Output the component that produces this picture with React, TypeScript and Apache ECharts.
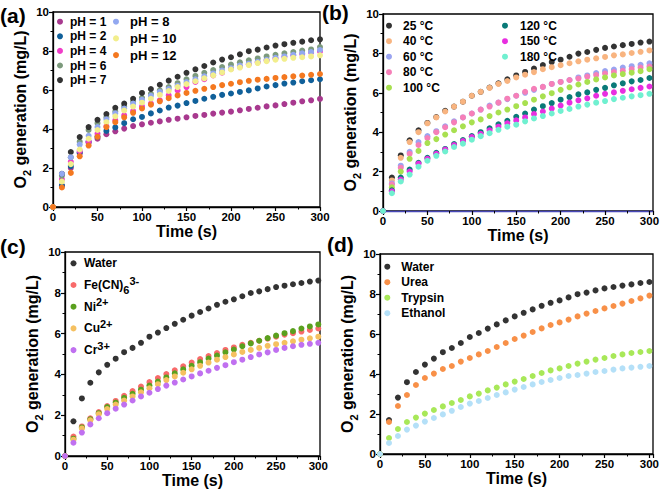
import React, { useEffect, useRef } from 'react';
import * as echarts from 'echarts';

const TIME = [0, 10, 20, 30, 40, 50, 60, 70, 80, 90, 100, 110, 120, 130, 140, 150, 160, 170, 180, 190, 200, 210, 220, 230, 240, 250, 260, 270, 280, 290, 300];

const WATER = [0, 1.7, 2.82, 3.59, 4.1, 4.47, 4.77, 5.09, 5.3, 5.55, 5.85, 6.05, 6.27, 6.48, 6.68, 6.88, 7.06, 7.23, 7.41, 7.56, 7.68, 7.83, 7.99, 8.07, 8.18, 8.28, 8.35, 8.42, 8.48, 8.55, 8.6];

// (a) pH
const PH1 = [0, 1.1, 2.0, 2.75, 3.3, 3.5, 3.73, 3.88, 4.02, 4.15, 4.24, 4.32, 4.39, 4.47, 4.53, 4.6, 4.67, 4.72, 4.79, 4.84, 4.89, 4.96, 5.03, 5.09, 5.16, 5.21, 5.28, 5.35, 5.42, 5.47, 5.54];
const PH2 = [0, 1.1, 2.1, 2.8, 3.35, 3.6, 3.9, 4.08, 4.3, 4.5, 4.62, 4.8, 4.95, 5.1, 5.2, 5.33, 5.44, 5.55, 5.65, 5.75, 5.82, 5.9, 5.98, 6.08, 6.18, 6.25, 6.33, 6.38, 6.45, 6.5, 6.55];
const PH4 = [0, 1.42, 2.32, 2.87, 3.35, 3.76, 4.14, 4.44, 4.7, 4.92, 5.16, 5.3, 5.47, 5.73, 5.98, 6.15, 6.41, 6.55, 6.75, 6.89, 7.09, 7.2, 7.32, 7.42, 7.52, 7.62, 7.7, 7.78, 7.85, 7.92, 7.98];
const PH6 = [0, 1.6, 2.55, 3.35, 3.95, 4.3, 4.6, 4.9, 5.15, 5.4, 5.6, 5.8, 5.98, 6.15, 6.35, 6.55, 6.72, 6.88, 7.02, 7.18, 7.3, 7.42, 7.52, 7.62, 7.72, 7.8, 7.88, 7.95, 8.02, 8.08, 8.2];
const PH7 = WATER;
const PH8 = [0, 1.7, 2.55, 3.2, 3.65, 4.1, 4.5, 4.8, 5.05, 5.3, 5.5, 5.7, 5.9, 6.05, 6.22, 6.4, 6.55, 6.7, 6.85, 7.0, 7.12, 7.25, 7.35, 7.45, 7.55, 7.65, 7.72, 7.8, 7.88, 7.95, 8.05];
const PH10 = [0, 1.3, 2.2, 2.95, 3.5, 3.95, 4.35, 4.65, 4.95, 5.15, 5.35, 5.55, 5.75, 5.95, 6.15, 6.3, 6.45, 6.6, 6.75, 6.9, 7.05, 7.15, 7.28, 7.38, 7.48, 7.55, 7.6, 7.65, 7.68, 7.72, 7.78];
const PH12 = [0, 1.0, 1.75, 2.6, 3.15, 3.6, 4.1, 4.35, 4.6, 4.83, 5.05, 5.25, 5.42, 5.58, 5.72, 5.85, 5.96, 6.06, 6.15, 6.25, 6.32, 6.4, 6.47, 6.53, 6.57, 6.62, 6.66, 6.7, 6.74, 6.78, 6.82];

// (b) temperature
const T25 = WATER;
const T40 = [0, 1.55, 2.7, 3.5, 4.0, 4.45, 4.75, 5.05, 5.3, 5.55, 5.85, 6.05, 6.25, 6.45, 6.6, 6.78, 6.92, 7.05, 7.2, 7.3, 7.4, 7.5, 7.6, 7.68, 7.75, 7.82, 7.9, 7.95, 8.02, 8.08, 8.15];
const T60 = [0, 1.4, 2.3, 3.0, 3.5, 3.8, 4.05, 4.3, 4.55, 4.75, 4.95, 5.15, 5.35, 5.5, 5.68, 5.85, 6.0, 6.15, 6.3, 6.45, 6.55, 6.65, 6.78, 6.88, 7.0, 7.1, 7.18, 7.28, 7.35, 7.42, 7.5];
const T80 = [0, 1.35, 2.2, 2.9, 3.35, 3.7, 4.0, 4.25, 4.5, 4.75, 4.95, 5.15, 5.3, 5.5, 5.7, 5.85, 6.05, 6.2, 6.3, 6.45, 6.55, 6.65, 6.72, 6.82, 6.9, 6.98, 7.05, 7.12, 7.2, 7.28, 7.33];
const T100 = [0, 1.2, 2.0, 2.65, 3.05, 3.45, 3.65, 3.88, 4.1, 4.3, 4.5, 4.65, 4.82, 5.0, 5.15, 5.32, 5.48, 5.65, 5.82, 5.98, 6.15, 6.28, 6.42, 6.55, 6.68, 6.78, 6.88, 6.95, 7.02, 7.1, 7.2];
const T120 = [0, 1.05, 1.7, 2.1, 2.45, 2.7, 2.95, 3.15, 3.4, 3.6, 3.8, 4.0, 4.2, 4.4, 4.58, 4.78, 4.95, 5.15, 5.32, 5.48, 5.65, 5.78, 5.92, 6.02, 6.15, 6.25, 6.38, 6.48, 6.58, 6.65, 6.75];
const T150 = [0, 1.0, 1.6, 2.0, 2.4, 2.65, 2.9, 3.12, 3.35, 3.55, 3.75, 3.92, 4.1, 4.28, 4.45, 4.6, 4.75, 4.92, 5.05, 5.2, 5.35, 5.5, 5.62, 5.72, 5.85, 5.95, 6.02, 6.1, 6.18, 6.25, 6.32];
const T180 = [0, 0.9, 1.5, 1.85, 2.25, 2.55, 2.8, 3.02, 3.25, 3.42, 3.62, 3.8, 3.95, 4.12, 4.28, 4.38, 4.55, 4.7, 4.82, 4.95, 5.08, 5.18, 5.3, 5.4, 5.5, 5.58, 5.68, 5.75, 5.82, 5.88, 5.95];

// (c) ions
const FECN = [0, 0.95, 1.45, 1.85, 2.15, 2.45, 2.7, 2.95, 3.18, 3.4, 3.62, 3.82, 4.02, 4.2, 4.4, 4.58, 4.75, 4.9, 5.05, 5.2, 5.32, 5.45, 5.55, 5.65, 5.75, 5.85, 5.95, 6.02, 6.1, 6.18, 6.25];
const NI = [0, 0.85, 1.4, 1.8, 2.1, 2.4, 2.62, 2.85, 3.05, 3.25, 3.45, 3.65, 3.85, 4.05, 4.25, 4.42, 4.6, 4.78, 4.92, 5.08, 5.22, 5.38, 5.52, 5.65, 5.78, 5.9, 6.02, 6.12, 6.25, 6.35, 6.45];
const CU = [0, 0.8, 1.35, 1.75, 2.05, 2.3, 2.52, 2.72, 2.92, 3.12, 3.32, 3.52, 3.72, 3.9, 4.08, 4.25, 4.42, 4.58, 4.72, 4.85, 4.98, 5.1, 5.2, 5.3, 5.4, 5.48, 5.55, 5.62, 5.7, 5.77, 5.85];
const CR = [0, 0.65, 1.15, 1.55, 1.85, 2.1, 2.32, 2.52, 2.72, 2.92, 3.1, 3.28, 3.45, 3.6, 3.75, 3.9, 4.05, 4.18, 4.32, 4.45, 4.6, 4.72, 4.85, 4.98, 5.08, 5.2, 5.3, 5.38, 5.45, 5.5, 5.55];

// (d) organics
const UREA = [0, 1.6, 2.4, 2.95, 3.45, 3.8, 4.02, 4.25, 4.4, 4.62, 4.8, 4.98, 5.15, 5.35, 5.55, 5.75, 5.92, 6.1, 6.28, 6.45, 6.58, 6.72, 6.88, 7.02, 7.15, 7.28, 7.4, 7.52, 7.65, 7.78, 7.92];
const TRYPSIN = [0, 0.8, 1.25, 1.6, 1.82, 2.02, 2.2, 2.38, 2.55, 2.7, 2.88, 3.02, 3.18, 3.32, 3.48, 3.62, 3.75, 3.9, 4.05, 4.18, 4.28, 4.4, 4.52, 4.62, 4.72, 4.8, 4.9, 4.98, 5.05, 5.1, 5.15];
const ETHANOL = [0, 0.55, 0.9, 1.22, 1.42, 1.62, 1.8, 1.98, 2.16, 2.35, 2.52, 2.65, 2.8, 2.95, 3.08, 3.22, 3.35, 3.48, 3.6, 3.7, 3.8, 3.9, 3.95, 4.02, 4.1, 4.15, 4.22, 4.28, 4.32, 4.36, 4.4];

const X_TICKS = [0, 50, 100, 150, 200, 250, 300];
const Y_TICKS = [0, 2, 4, 6, 8, 10];

const FONT = '"Liberation Sans", Arial, Helvetica, sans-serif';

type S = { name: string; data: number[]; color: string };

const PANEL_A: S[] = [
  { name: 'pH = 1', data: PH1, color: '#a8398f' },
  { name: 'pH = 2', data: PH2, color: '#10609a' },
  { name: 'pH = 4', data: PH4, color: '#f03cc8' },
  { name: 'pH = 6', data: PH6, color: '#7c9a7c' },
  { name: 'pH = 7', data: PH7, color: '#333333' },
  { name: 'pH = 8', data: PH8, color: '#92a8f0' },
  { name: 'pH = 10', data: PH10, color: '#f2ee8c' },
  { name: 'pH = 12', data: PH12, color: '#f47820' },
];
const PANEL_B: S[] = [
  { name: '25 °C', data: T25, color: '#333333' },
  { name: '40 °C', data: T40, color: '#f8b480' },
  { name: '60 °C', data: T60, color: '#9aa4f0' },
  { name: '80 °C', data: T80, color: '#f67fb8' },
  { name: '100 °C', data: T100, color: '#a8e050' },
  { name: '120 °C', data: T120, color: '#0a7a78' },
  { name: '150 °C', data: T150, color: '#e82ee0' },
  { name: '180 °C', data: T180, color: '#70f0d0' },
];
const PANEL_C: S[] = [
  { name: 'Water', data: WATER, color: '#333333' },
  { name: 'Fe(CN)6 3-', data: FECN, color: '#f86a6a' },
  { name: 'Ni2+', data: NI, color: '#5aa01e' },
  { name: 'Cu2+', data: CU, color: '#f5c060' },
  { name: 'Cr3+', data: CR, color: '#c070f0' },
];
const PANEL_D: S[] = [
  { name: 'Water', data: WATER, color: '#333333' },
  { name: 'Urea', data: UREA, color: '#f89048' },
  { name: 'Trypsin', data: TRYPSIN, color: '#a8e858' },
  { name: 'Ethanol', data: ETHANOL, color: '#b4e0f8' },
];

const RICH_LEGEND: Record<string, string> = {
  'Fe(CN)6 3-': 'Fe(CN){sub|6}{sup|3-}',
  'Ni2+': 'Ni{sup|2+}',
  'Cu2+': 'Cu{sup|2+}',
  'Cr3+': 'Cr{sup|3+}',
};

export default function App() {
  const ref = useRef<HTMLDivElement>(null);
  useEffect(() => {
    const chart = echarts.init(ref.current!, null, { renderer: 'svg' });

    const grids = [
      { left: 53, top: 12, width: 267, height: 195, xmax: 300, xAxisColor: '#000' },
      { left: 383, top: 14, width: 270, height: 197, xmax: 304, xAxisColor: '#4848b8' },
      { left: 65, top: 252, width: 255, height: 204, xmax: 302, xAxisColor: '#000' },
      { left: 380, top: 254, width: 273, height: 200, xmax: 304, xAxisColor: '#000' },
    ];

    const labelStyle = { fontSize: 11.5, fontWeight: 'bold', color: '#000', fontFamily: FONT };
    const nameStyle = { fontSize: 16, fontWeight: 'bold', color: '#000', fontFamily: FONT };

    const xAxes = grids.map((g, i) => ({
      type: 'value',
      gridIndex: i,
      min: X_TICKS[0],
      max: g.xmax,
      interval: X_TICKS[1] - X_TICKS[0],
      axisLine: { show: true, onZero: false, lineStyle: { color: g.xAxisColor, width: 1.3 } },
      axisTick: { show: true, inside: false, length: 4, lineStyle: { color: '#000', width: 1.2 } },
      minorTick: { show: true, splitNumber: 2, length: 2.5, lineStyle: { color: '#000', width: 1 } },
      splitLine: { show: false },
      axisLabel: { ...labelStyle, margin: 4, showMaxLabel: g.xmax === 300, showMinLabel: true },
      name: 'Time (s)',
      nameLocation: 'middle',
      nameGap: 13,
      nameTextStyle: nameStyle,
    }));

    const yAxes = grids.map((g, i) => ({
      type: 'value',
      gridIndex: i,
      min: Y_TICKS[0],
      max: Y_TICKS[Y_TICKS.length - 1],
      interval: Y_TICKS[1] - Y_TICKS[0],
      axisLine: { show: true, onZero: false, lineStyle: { color: '#000', width: 1.3 } },
      axisTick: { show: true, inside: false, length: 4, lineStyle: { color: '#000', width: 1.2 } },
      minorTick: { show: true, splitNumber: 2, length: 2.5, lineStyle: { color: '#000', width: 1 } },
      splitLine: { show: false },
      axisLabel: { ...labelStyle, margin: 4 },
      name: '{a|O}{b|2}{a| generation (mg/L)}',
      nameLocation: 'middle',
      nameGap: 16,
      nameTextStyle: {
        ...nameStyle,
        rich: {
          a: { ...nameStyle, lineHeight: 24 },
          b: { fontSize: 11, fontWeight: 'bold', color: '#000', fontFamily: FONT, verticalAlign: 'bottom', lineHeight: 24 },
        },
      },
    }));

    const panels = [PANEL_A, PANEL_B, PANEL_C, PANEL_D];
    const series: any[] = [];
    panels.forEach((p, gi) => {
      p.forEach((s) => {
        series.push({
          type: 'scatter',
          name: s.name,
          xAxisIndex: gi,
          yAxisIndex: gi,
          symbol: 'circle',
          symbolSize: 6,
          clip: false,
          itemStyle: { color: s.color, opacity: 1 },
          data: s.data.map((v, k) => [TIME[k], v]),
        });
      });
    });

    const legendBase = {
      orient: 'vertical',
      icon: 'circle',
      itemHeight: 6,
      selectedMode: false,
      padding: 0,
    };
    const legendText = (size: number, lh: number) => ({
      fontSize: size,
      fontWeight: 'bold',
      color: '#000',
      fontFamily: FONT,
      lineHeight: lh,
    });

    const legends = [
      { ...legendBase, data: PANEL_A.slice(0, 5).map((s) => s.name), left: 57, top: 14.7, itemWidth: 10, itemGap: 0.6, textStyle: legendText(12, 14) },
      { ...legendBase, data: PANEL_A.slice(5).map((s) => s.name), left: 113, top: 14.2, itemWidth: 18, itemGap: 1.7, textStyle: legendText(13, 15) },
      { ...legendBase, data: PANEL_B.slice(0, 5).map((s) => s.name), left: 386, top: 18.2, itemWidth: 18, itemGap: 0.5, textStyle: legendText(12, 15) },
      { ...legendBase, data: PANEL_B.slice(5).map((s) => s.name), left: 502, top: 18.2, itemWidth: 20, itemGap: 0.5, textStyle: legendText(12, 15) },
      {
        ...legendBase,
        data: PANEL_C.map((s) => s.name),
        left: 70.5,
        top: 253.3,
        itemWidth: 11,
        itemGap: 1.7,
        formatter: (n: string) => RICH_LEGEND[n] || n,
        textStyle: {
          ...legendText(12, 20),
          rich: {
            sub: { fontSize: 11, fontWeight: 'bold', color: '#000', fontFamily: FONT, verticalAlign: 'bottom', lineHeight: 20 },
            sup: { fontSize: 11, fontWeight: 'bold', color: '#000', fontFamily: FONT, verticalAlign: 'top', lineHeight: 20 },
          },
        },
      },
      { ...legendBase, data: PANEL_D.map((s) => s.name), left: 384.3, top: 259.7, itemWidth: 18, itemGap: 1.5, textStyle: legendText(12, 14) },
    ];

    const labels = [
      { t: '(a)', x: 0, y: 15 },
      { t: '(b)', x: 322, y: 12.5 },
      { t: '(c)', x: 0, y: 246 },
      { t: '(d)', x: 327, y: 244.5 },
    ];

    chart.setOption({
      animation: false,
      backgroundColor: '#fff',
      grid: grids.map((g) => ({
        left: g.left,
        top: g.top,
        width: g.width,
        height: g.height,
        show: true,
        borderColor: '#000',
        borderWidth: 1.3,
        backgroundColor: 'transparent',
        containLabel: false,
        outerBoundsMode: 'none',
      })),
      xAxis: xAxes,
      yAxis: yAxes,
      legend: legends,
      series,
      graphic: labels.map((l) => ({
        type: 'text',
        x: l.x,
        y: l.y,
        style: {
          text: l.t,
          fontSize: 21,
          fontWeight: 'bold',
          fontFamily: FONT,
          fill: '#000',
          verticalAlign: 'middle',
          align: 'left',
        },
      })),
    });

    return () => chart.dispose();
  }, []);

  return <div ref={ref} style={{ position: 'fixed', left: 0, top: 0, width: 661, height: 495 }} />;
}
